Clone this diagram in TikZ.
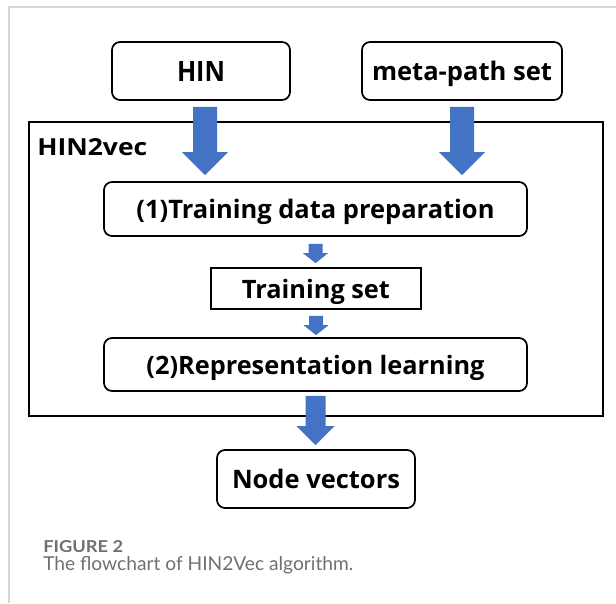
\documentclass[tikz,border=0pt]{standalone}
\usepackage{fontspec}
\setmainfont{Open Sans}
\newfontfamily\capfont{Lato}
\usetikzlibrary{calc}

\definecolor{flowblue}{HTML}{4472C4}
\definecolor{capgray}{HTML}{707070}
\definecolor{framegray}{HTML}{D6D6D6}

% scale a label to a given width, keeping its proportions
\newcommand{\fitto}[2]{\resizebox{#1}{!}{#2}}

% thick block arrow: source point, target point, half shaft, half head, head length
\newcommand{\blockarrow}[5]{%
  \fill[flowblue] let \p1=(#1), \p2=(#2) in
    (\x1-#3,\y1) -- (\x1-#3,\y2+#5) -- (\x1-#4,\y2+#5) -- (\x1,\y2)
    -- (\x1+#4,\y2+#5) -- (\x1+#3,\y2+#5) -- (\x1+#3,\y1) -- cycle;}

\tikzset{
  rbox/.style={draw, line width=1.3pt, rounded corners=6pt, inner sep=0pt,
               text depth=0pt, align=center},
  sbox/.style={draw, line width=1.3pt, inner sep=0pt, text depth=0pt, align=center},
  outerbox/.style={draw, line width=1.3pt, inner sep=0pt},
}

\begin{document}
\begin{tikzpicture}[x=0.75pt, y=-0.75pt]
\useasboundingbox (0,0) rectangle (616,603);

% page frame
\draw[framegray, line width=1pt] (9,603) -- (9,7) -- (616,7);

% inputs
\node[rbox, minimum width={178*0.75pt}, minimum height={58*0.75pt}] (hin) at (201,71)
  {\resizebox{36pt}{15pt}{\bfseries HIN}};
\node[rbox, minimum width={200*0.75pt}, minimum height={58*0.75pt}] (meta) at (462,71)
  {\fitto{135pt}{\bfseries meta-path set}};

% HIN2vec frame
\node[outerbox, minimum width={574*0.75pt}, minimum height={294*0.75pt}] (hinvec) at (316,269) {};
\node[anchor=base west, inner sep=0pt] (hinvecname) at (37,155)
  {\resizebox{82.5pt}{12.75pt}{\bfseries HIN2vec}};

% steps
\node[rbox, minimum width={423*0.75pt}, minimum height={54*0.75pt}] (prep) at (315.5,209)
  {\fitto{268.5pt}{\bfseries (1)Training data preparation}};
\node[sbox, minimum width={210*0.75pt}, minimum height={41*0.75pt}] (tset) at (316,288.5)
  {\fitto{111pt}{\bfseries Training set}};
\node[rbox, minimum width={423*0.75pt}, minimum height={53*0.75pt}] (learn) at (315.5,364.5)
  {\fitto{253.5pt}{\bfseries (2)Representation learning}};

% output
\node[rbox, minimum width={198*0.75pt}, minimum height={58*0.75pt}] (vecs) at (316,479)
  {\fitto{126pt}{\bfseries Node vectors}};

% arrows
\blockarrow{[xshift=3pt,yshift=-4.5pt]hin.south}{[yshift=4.5pt]prep.north}{9pt}{17.25pt}{17.25pt}
\blockarrow{[yshift=-4.5pt]meta.south}{[yshift=4.5pt]prep.north}{9pt}{17.25pt}{17.25pt}
\blockarrow{[yshift=-5.25pt]prep.south}{[yshift=3pt]tset.north}{5.25pt}{9.4pt}{7.5pt}
\blockarrow{[yshift=-4.5pt]tset.south}{[yshift=1.5pt]learn.north}{5.25pt}{9.4pt}{7.5pt}
\blockarrow{[yshift=-3pt]learn.south}{[yshift=3pt]vecs.north}{7.5pt}{14.25pt}{14.25pt}

% caption
\node[anchor=base west, inner sep=0pt, text=capgray] (figno) at (43,552)
  {\resizebox{60pt}{9pt}{\capfont\bfseries FIGURE 2}};
\node[anchor=base west, inner sep=0pt, text=capgray] (figtext) at (43,570)
  {\fitto{232.5pt}{\capfont The flowchart of HIN2Vec algorithm.}};
\end{tikzpicture}
\end{document}
